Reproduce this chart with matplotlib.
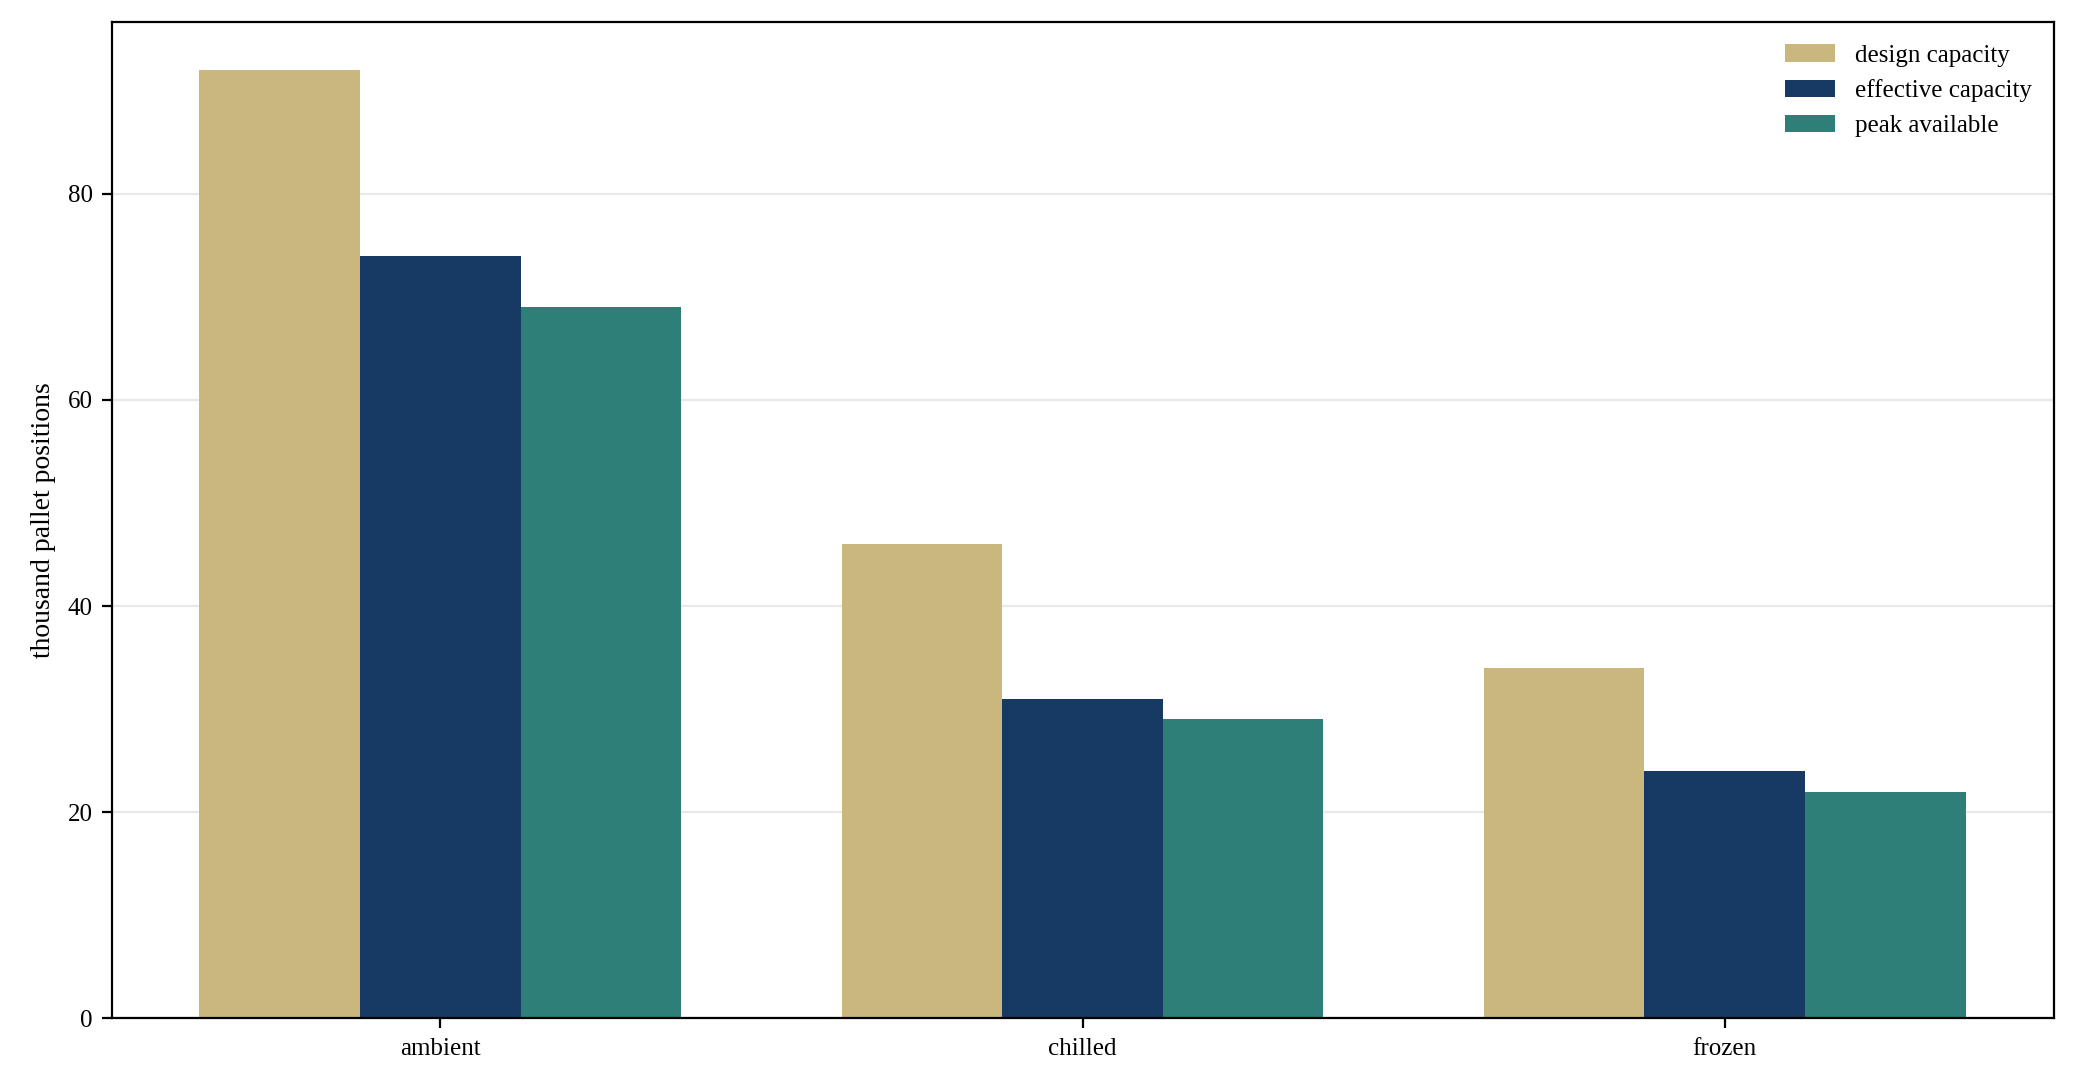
import matplotlib
matplotlib.use("Agg")
import matplotlib.pyplot as plt
import numpy as np

categories = ["ambient", "chilled", "frozen"]
series_names = ["design capacity", "effective capacity", "peak available"]
design = [92, 46, 34]
effective = [74, 31, 24]
peak = [69, 29, 22]
colors = ["#C9B77D", "#173A64", "#2E7F78"]

plt.rcParams['font.family'] = ['Liberation Serif', 'DejaVu Serif']
fig = plt.figure(figsize=(10.375, 5.44), dpi=200)
ax = fig.add_axes([0.054, 0.064, 0.936, 0.916])
x = np.arange(len(categories))
w = 0.25
for i, (vals, name) in enumerate(zip([design, effective, peak], series_names)):
    ax.bar(x + (i - 1) * w, vals, w, color=colors[i], label=name, zorder=2)
ax.set_xlim(-0.511, 2.513)
ax.set_ylim(0, 96.7)
ax.set_yticks([0, 20, 40, 60, 80])
ax.set_xticks(x)
ax.set_xticklabels(categories)
ax.yaxis.grid(True, color="#e8e8e8", linewidth=0.8, zorder=0)
ax.set_ylabel("thousand pallet positions", fontsize=10)
ax.tick_params(labelsize=9)
ax.legend(frameon=False, loc="upper right", fontsize=9)
fig.savefig("out.png", dpi=200)
